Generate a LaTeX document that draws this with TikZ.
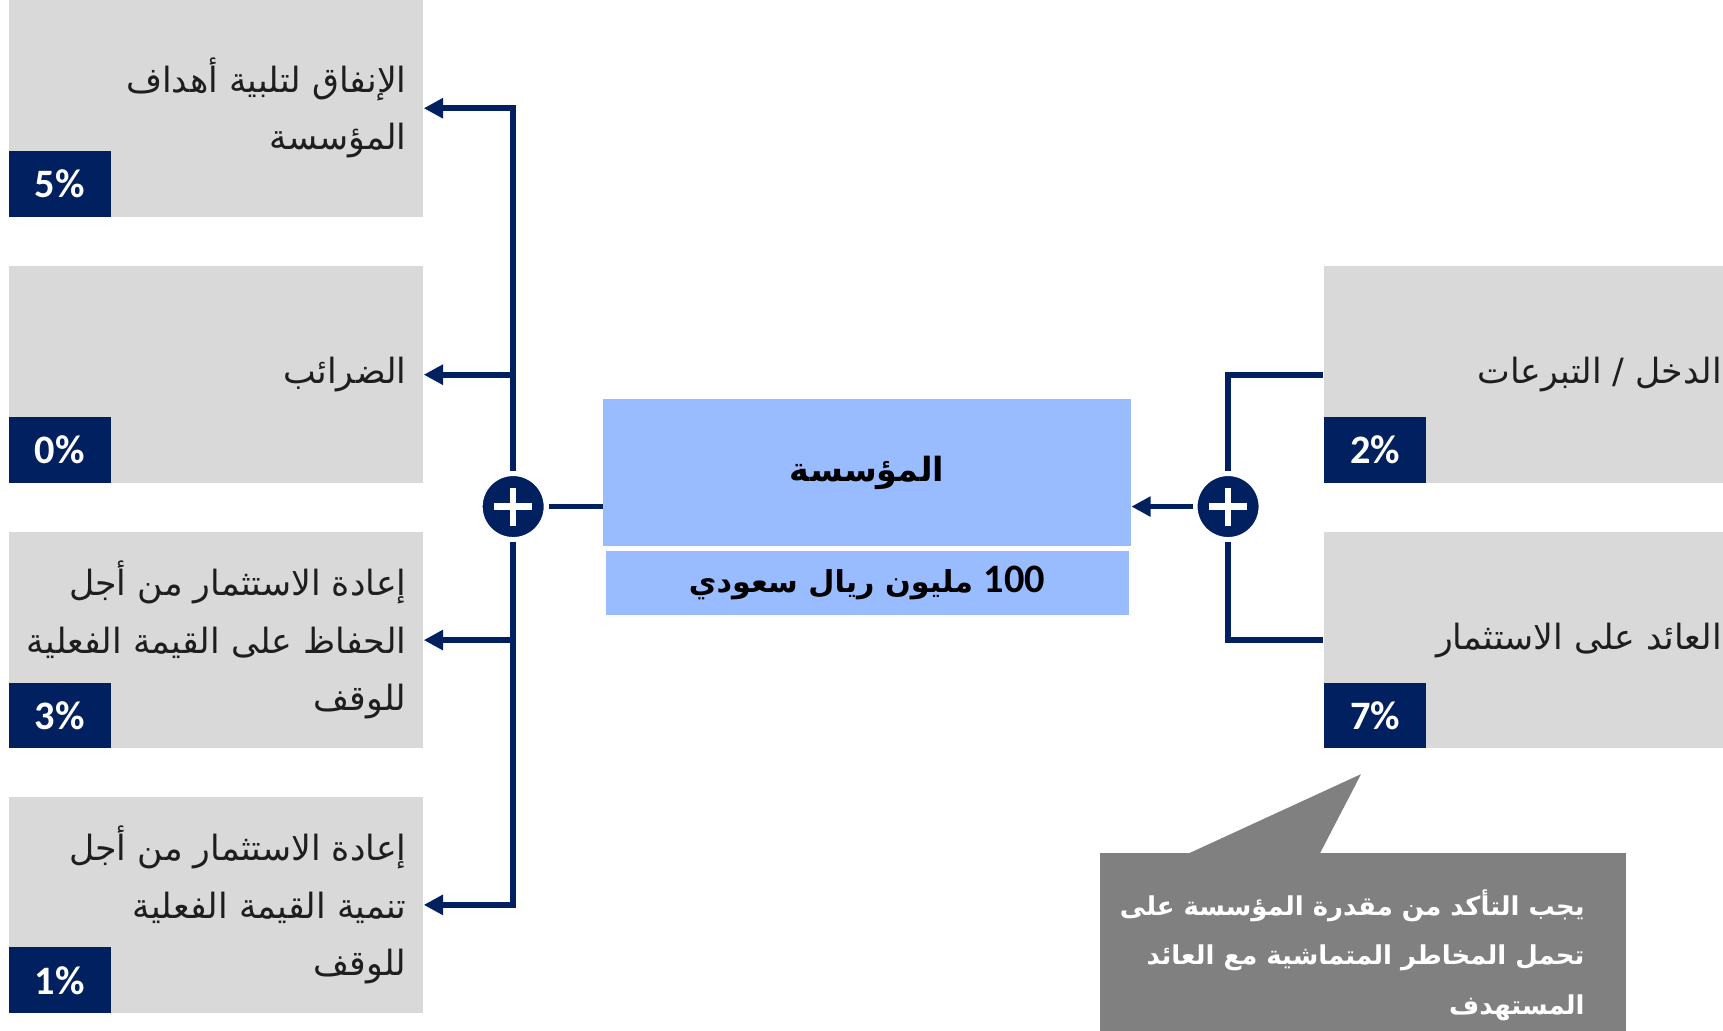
\documentclass[tikz,border=0pt]{standalone}
\usepackage{fontspec}
\usetikzlibrary{arrows.meta}
\TeXXeTstate=1
\newfontfamily\arabicfont[Script=Arabic]{DejaVu Sans}
\newfontfamily\pctfont{Carlito}
\definecolor{navy}{RGB}{0,32,96}
\definecolor{boxgrey}{RGB}{217,217,217}
\definecolor{instblue}{RGB}{153,187,255}
\definecolor{notegrey}{RGB}{128,128,128}
\definecolor{inktext}{RGB}{30,30,30}
\newcommand{\arline}[1]{\beginR #1\endR}

\tikzset{
  flowbox/.style={fill=boxgrey, minimum width=4.147cm, minimum height=2.17cm, inner sep=0pt},
  flowtext/.style={anchor=east, align=right, inner sep=0pt, xshift=-0.165cm, text=inktext,
    font=\arabicfont\fontsize{9.9}{16.3}\selectfont},
  pct/.style={fill=navy, text=white, minimum width=1.023cm, minimum height=0.66cm, inner sep=0pt,
    anchor=south west, font=\pctfont\bfseries\fontsize{11.5}{13}\selectfont},
  link/.style={draw=navy, line width=1.6pt},
  feed/.style={-{Triangle[length=5.5pt,width=5.5pt]}},
  sumnode/.style={circle, fill=navy, draw=white, line width=1.4pt, minimum size=0.66cm, inner sep=0pt},
}

\begin{document}
\begin{tikzpicture}[x=0.011cm,y=-0.011cm]
  \clip (0,0) rectangle (1568,938);

  % outflows
  \node[flowbox] (o1) at (196.5,98.5) {};
  \node[flowbox] (o2) at (196.5,341) {};
  \node[flowbox] (o3) at (196.5,582.5) {};
  \node[flowbox] (o4) at (196.5,823.5) {};
  \node[flowtext] (o1t) at (o1.east) {\arline{الإنفاق لتلبية أهداف}\\ \arline{المؤسسة}};
  \node[flowtext] (o2t) at (o2.east) {\arline{الضرائب}};
  \node[flowtext] (o3t) at (o3.east) {\arline{إعادة الاستثمار من أجل}\\ \arline{الحفاظ على القيمة الفعلية}\\ \arline{للوقف}};
  \node[flowtext] (o4t) at (o4.east) {\arline{إعادة الاستثمار من أجل}\\ \arline{تنمية القيمة الفعلية}\\ \arline{للوقف}};
  \node[pct] (p1) at (o1.south west) {5\%};
  \node[pct] (p2) at (o2.south west) {0\%};
  \node[pct] (p3) at (o3.south west) {3\%};
  \node[pct] (p4) at (o4.south west) {1\%};

  % inflows
  \node[flowbox] (i1) at (1393.5,341) {};
  \node[flowbox] (i2) at (1393.5,582.5) {};
  \node[flowtext] (i1t) at (i1.east) {\arline{الدخل / التبرعات}};
  \node[flowtext] (i2t) at (i2.east) {\arline{العائد على الاستثمار}};
  \node[pct] (q1) at (i1.south west) {2\%};
  \node[pct] (q2) at (i2.south west) {7\%};

  % institution
  \node[fill=instblue, minimum width=5.28cm, minimum height=1.474cm, inner sep=0pt, text=black,
    font=\arabicfont\bfseries\fontsize{9.5}{12}\selectfont] (inst) at (789,430) {\arline{المؤسسة}};
  \node[fill=instblue, minimum width=5.236cm, minimum height=0.638cm, inner sep=0pt, anchor=north, text=black,
    font=\arabicfont\bfseries\fontsize{8.6}{12}\selectfont] (cap) at ([yshift=-0.033cm]inst.south)
    {\arline{\beginL{\pctfont\bfseries\fontsize{11.5}{13}\selectfont 100}\endL{} مليون ريال سعودي}};

  \node[sumnode] (lplus) at (467,461) {};
  \node[sumnode] (rplus) at (1117.6,461) {};
  \foreach \hub in {lplus,rplus}
    \draw[white, line width=1.8pt] ([xshift=-0.19cm]\hub.center) -- ([xshift=0.19cm]\hub.center)
      ([yshift=-0.19cm]\hub.center) -- ([yshift=0.19cm]\hub.center);

  \draw[link] (lplus) -- (lplus -| inst.west);
  \draw[link, feed] (lplus) |- (o1.east);
  \draw[link, feed] (lplus) |- (o2.east);
  \draw[link, feed] (lplus) |- (o3.east);
  \draw[link, feed] (lplus) |- (o4.east);

  \draw[link, feed] (rplus) -- (rplus -| inst.east);
  \draw[link] (rplus) |- (i1.west);
  \draw[link] (rplus) |- (i2.west);

  % note
  \fill[notegrey] (1081,777) -- (1238.6,704.5) -- (1201,777) -- cycle;
  \node[fill=notegrey, minimum width=5.27cm, minimum height=2.046cm, inner sep=0pt] (note) at (1240.5,869) {};
  \node[anchor=east, align=right, inner sep=0pt, text=white,
    font=\arabicfont\bfseries\fontsize{7.4}{14.1}\selectfont] (notet) at ([xshift=-0.418cm]note.east)
    {\arline{يجب التأكد من مقدرة المؤسسة على}\\ \arline{تحمل المخاطر المتماشية مع العائد}\\ \arline{المستهدف}};
\end{tikzpicture}
\end{document}
